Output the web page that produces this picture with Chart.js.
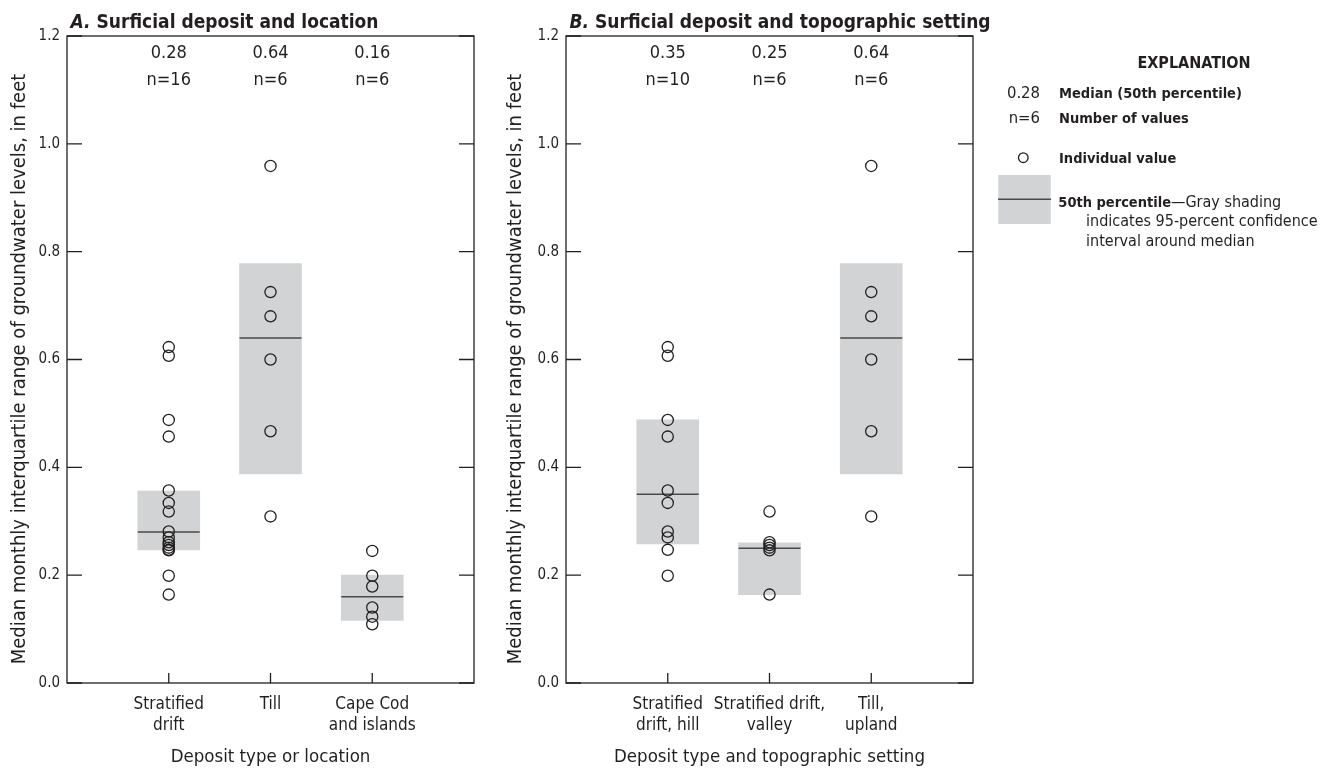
<!DOCTYPE html>
<html>
<head>
<meta charset="utf-8">
<script src="https://cdn.jsdelivr.net/npm/chart.js@4.4.1/dist/chart.umd.min.js"></script>
<style>
  html, body { margin: 0; padding: 0; background: #ffffff; }
  #wrap { position: relative; width: 1338px; height: 769px; overflow: hidden; }
  #panelA { position: absolute; left: 0; top: 0; width: 480px; height: 769px; }
  #panelB { position: absolute; left: 480px; top: 0; width: 858px; height: 769px; }
</style>
</head>
<body>
<div id="wrap">
  <canvas id="panelA" width="480" height="769"></canvas>
  <canvas id="panelB" width="858" height="769"></canvas>
</div>
<script>
// ---- data ---------------------------------------------------------------
const categoriesA = [['Stratified', 'drift'], ['Till'], ['Cape Cod', 'and islands']];
const categoriesB = [['Stratified', 'drift, hill'], ['Stratified drift,', 'valley'], ['Till,', 'upland']];
const yTickValues = [0, 0.2, 0.4, 0.6, 0.8, 1.0, 1.2];

// Median monthly interquartile range of groundwater levels, in feet, per well
const stratifiedDriftHill   = [0.623, 0.607, 0.488, 0.457, 0.357, 0.334, 0.281, 0.270, 0.247, 0.199];
const stratifiedDriftValley = [0.318, 0.261, 0.256, 0.251, 0.246, 0.164];
const stratifiedDrift = [0.623, 0.607, 0.488, 0.457, 0.357, 0.334, 0.318, 0.281,
                         0.270, 0.261, 0.256, 0.251, 0.247, 0.246, 0.199, 0.164];
const till           = [0.959, 0.725, 0.680, 0.600, 0.467, 0.309];
const capeCodIslands = [0.245, 0.199, 0.179, 0.140, 0.123, 0.109];

// Medians and 95-percent confidence intervals around the median
const mediansA = [0.28, 0.64, 0.16];
const ciLowA   = [0.247, 0.388, 0.116];
const ciHighA  = [0.356, 0.778, 0.200];

const mediansB = [0.35, 0.25, 0.64];
const ciLowB   = [0.258, 0.164, 0.388];
const ciHighB  = [0.488, 0.260, 0.778];

// ---- styling ------------------------------------------------------------
const FONT = "'Liberation Sans Narrow', 'Arial Narrow', 'DejaVu Sans Condensed', sans-serif";
const INK = '#231f20';
const SHADE = '#d1d3d4';
const MEDIAN_INK = '#4a4a4a';

Chart.defaults.font.family = FONT;
Chart.defaults.color = INK;

const Y_TITLE = 'Median monthly interquartile range of groundwater levels, in feet';

function buildPanel(canvasId, cfg) {
  const groupPoints = cfg.groups.flatMap((vals, i) => vals.map(v => ({ x: i + 1, y: v })));

  const decor = {
    id: 'decor' + canvasId,
    afterDraw(chart) {
      const { ctx, chartArea: a, scales: { x, y } } = chart;
      ctx.save();
      // plot frame with inward ticks
      ctx.strokeStyle = INK;
      ctx.lineWidth = 1.3;
      ctx.strokeRect(a.left, a.top, a.right - a.left, a.bottom - a.top);
      ctx.beginPath();
      yTickValues.forEach(v => {
        const py = y.getPixelForValue(v);
        ctx.moveTo(a.left, py);  ctx.lineTo(a.left + 15, py);
        ctx.moveTo(a.right, py); ctx.lineTo(a.right - 15, py);
      });
      x.ticks.forEach(t => {
        const px = x.getPixelForValue(t.value);
        ctx.moveTo(px, a.bottom); ctx.lineTo(px, a.bottom - 10);
      });
      ctx.stroke();

      ctx.fillStyle = INK;

      // category names under the axis
      ctx.textAlign = 'center';
      ctx.textBaseline = 'alphabetic';
      ctx.font = `17px ${FONT}`;
      x.ticks.forEach(t => {
        const px = x.getPixelForValue(t.value);
        cfg.categories[t.value - 1].forEach((line, k) => {
          ctx.fillText(line, px, a.bottom + 25.5 + k * 21);
        });
      });

      // vertical axis title
      ctx.save();
      ctx.translate(cfg.yTitleX, 369);
      ctx.rotate(-Math.PI / 2);
      ctx.textAlign = 'center';
      ctx.textBaseline = 'middle';
      ctx.font = `20px ${FONT}`;
      ctx.fillText(Y_TITLE, 0, 0);
      ctx.restore();

      // panel title: bold italic letter, bold text
      ctx.textAlign = 'left';
      ctx.textBaseline = 'alphabetic';
      ctx.font = `italic bold 19px ${FONT}`;
      const tx = a.left + 3.5;
      ctx.fillText(cfg.letter, tx, 28);
      const lw = ctx.measureText(cfg.letter).width;
      ctx.font = `bold 19px ${FONT}`;
      ctx.fillText(' ' + cfg.title, tx + lw, 28);

      // median value and count above each group
      ctx.textAlign = 'center';
      ctx.font = `18px ${FONT}`;
      cfg.medians.forEach((m, i) => {
        const px = x.getPixelForValue(i + 1);
        ctx.fillText(m.toFixed(2), px, 58);
        ctx.fillText('n=' + cfg.groups[i].length, px, 85);
      });
      ctx.restore();
      if (cfg.afterDraw) cfg.afterDraw(chart);
    }
  };

  return new Chart(document.getElementById(canvasId), {
    type: 'scatter',
    data: {
      datasets: [
        {
          label: 'Individual value',
          data: groupPoints,
          pointStyle: 'circle',
          pointRadius: 5.6,
          pointBorderWidth: 1.3,
          borderColor: INK,
          backgroundColor: 'rgba(0,0,0,0)',
          order: 0
        },
        {
          label: 'Median',
          data: cfg.medians.map((m, i) => ({ x: i + 1, y: m })),
          pointStyle: 'line',
          pointRadius: 31,
          pointBorderWidth: 1.6,
          borderColor: MEDIAN_INK,
          backgroundColor: MEDIAN_INK,
          order: 1
        },
        {
          type: 'bar',
          label: '95-percent confidence interval',
          data: cfg.ciLow.map((lo, i) => ({ x: i + 1, y: [lo, cfg.ciHigh[i]] })),
          backgroundColor: SHADE,
          borderWidth: 0,
          grouped: false,
          barThickness: 62,
          maxBarThickness: 62,
          order: 2
        }
      ]
    },
    options: {
      responsive: false,
      animation: false,
      events: [],
      layout: { autoPadding: false, padding: { top: 36, right: cfg.padRight, left: 0, bottom: 0 } },
      plugins: { legend: { display: false }, tooltip: { enabled: false }, title: { display: false } },
      scales: {
        x: {
          type: 'linear',
          min: 0,
          max: 4,
          offset: false,
          grid: { display: false, drawTicks: false, offset: false },
          border: { display: false },
          afterBuildTicks: s => { s.ticks = cfg.categories.map((c, i) => ({ value: i + 1 })); },
          afterFit: s => { s.height = 86; s.paddingLeft = 0; s.paddingRight = 0; },
          ticks: { display: false },
          title: {
            display: true,
            text: cfg.xTitle,
            color: INK,
            font: { size: 18.5 },
            padding: { top: 0, bottom: 1 }
          }
        },
        y: {
          type: 'linear',
          min: 0,
          max: 1.2,
          grid: { display: false, drawTicks: false },
          border: { display: false },
          afterBuildTicks: s => { s.ticks = yTickValues.map(v => ({ value: v })); },
          afterFit: s => { s.width = cfg.yAxisWidth; s.paddingTop = 0; s.paddingBottom = 0; },
          ticks: {
            padding: 7,
            color: INK,
            font: { size: 15 },
            callback: v => Number(v).toFixed(1)
          }
        }
      }
    },
    plugins: [decor]
  });
}

// Explanation block drawn beside panel B
function drawExplanation(chart) {
  const ctx = chart.ctx;
  ctx.save();
  ctx.fillStyle = INK;
  ctx.textBaseline = 'alphabetic';

  ctx.textAlign = 'center';
  ctx.font = `bold 16px ${FONT}`;
  ctx.fillText('EXPLANATION', 714, 68);

  ctx.textAlign = 'right';
  ctx.font = `16.5px ${FONT}`;
  ctx.fillText(mediansA[0].toFixed(2), 560, 98);
  ctx.fillText('n=' + till.length, 560, 123);

  ctx.textAlign = 'left';
  ctx.font = `bold 14.5px ${FONT}`;
  ctx.fillText('Median (50th percentile)', 579, 98);
  ctx.fillText('Number of values', 579, 123);
  ctx.fillText('Individual value', 579, 163);

  ctx.strokeStyle = INK;
  ctx.lineWidth = 1.3;
  ctx.beginPath();
  ctx.arc(543.3, 157.7, 4.8, 0, Math.PI * 2);
  ctx.stroke();

  ctx.fillStyle = SHADE;
  ctx.fillRect(518.3, 175, 52.4, 49);
  ctx.strokeStyle = MEDIAN_INK;
  ctx.lineWidth = 1.6;
  ctx.beginPath();
  ctx.moveTo(518, 199.3);
  ctx.lineTo(571, 199.3);
  ctx.stroke();

  ctx.fillStyle = INK;
  ctx.font = `bold 14.5px ${FONT}`;
  const lead = '50th percentile';
  ctx.fillText(lead, 578.3, 206.5);
  const w = ctx.measureText(lead).width;
  ctx.font = `16px ${FONT}`;
  ctx.fillText('\u2014Gray shading', 578.3 + w, 206.5);
  ctx.fillText('indicates 95-percent confidence', 606, 226);
  ctx.fillText('interval around median', 606, 245.5);
  ctx.restore();
}

buildPanel('panelA', {
  letter: 'A.',
  title: 'Surficial deposit and location',
  categories: categoriesA,
  groups: [stratifiedDrift, till, capeCodIslands],
  medians: mediansA,
  ciLow: ciLowA,
  ciHigh: ciHighA,
  xTitle: 'Deposit type or location',
  yAxisWidth: 67,
  padRight: 6,
  yTitleX: 20
});

buildPanel('panelB', {
  letter: 'B.',
  title: 'Surficial deposit and topographic setting',
  categories: categoriesB,
  groups: [stratifiedDriftHill, stratifiedDriftValley, till],
  medians: mediansB,
  ciLow: ciLowB,
  ciHigh: ciHighB,
  xTitle: 'Deposit type and topographic setting',
  yAxisWidth: 86,
  padRight: 365,
  yTitleX: 36,
  afterDraw: drawExplanation
});
</script>
</body>
</html>
